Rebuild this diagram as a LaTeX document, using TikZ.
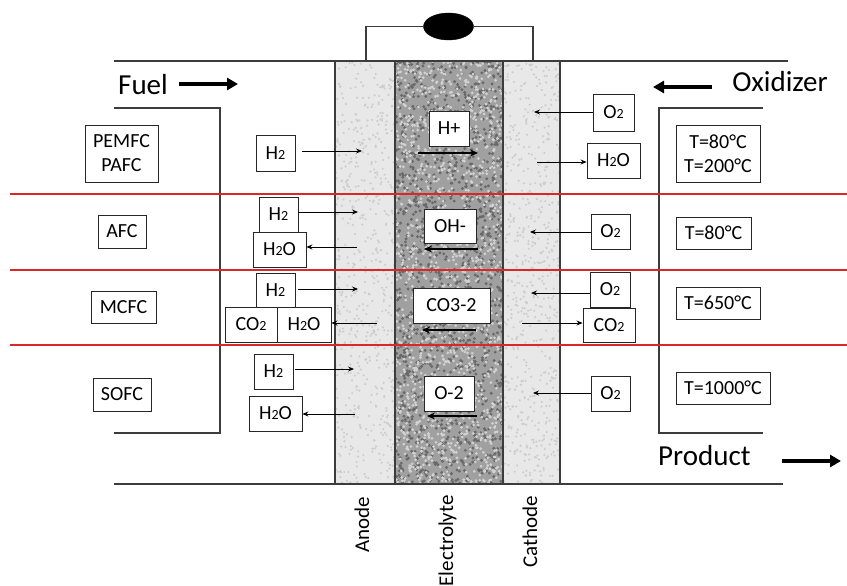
\documentclass[tikz,border=0pt]{standalone}
\usepackage{fontspec}
\setmainfont{Carlito}
\usetikzlibrary{arrows.meta,shapes.geometric}
\definecolor{redl}{RGB}{218,40,40}
\definecolor{lineg}{RGB}{60,60,60}
\definecolor{elbase}{RGB}{160,160,160}
\definecolor{eldark}{RGB}{105,105,105}
\definecolor{ellight}{RGB}{210,210,210}
\definecolor{adbase}{RGB}{232,232,232}
\definecolor{addark}{RGB}{205,205,205}
\newcommand\subn[1]{{\fontsize{14pt}{14pt}\selectfont #1}}
\begin{document}
\begin{tikzpicture}[x=1pt,y=-1pt,
  line/.style={draw=lineg, line width=1.1pt},
  box/.style={draw=black!85, line width=0.9pt, fill=white, inner sep=0pt, font=\fontsize{20pt}{24pt}\selectfont, align=center},
  arr/.style={draw=black, line width=0.8pt, -{Stealth[length=6pt,width=5pt]}},
  ionarr/.style={draw=black, line width=2.2pt, -{Stealth[length=8pt,width=7pt]}},
  bigarr/.style={draw=black, line width=3.5pt, -{Triangle[length=11pt,width=12pt]}},
  big/.style={font=\fontsize{29pt}{30pt}\selectfont, inner sep=0pt},
  lab/.style={font=\fontsize{21pt}{22pt}\selectfont, inner sep=0pt, rotate=90, anchor=base east},
  redline/.style={draw=redl, line width=1.4pt}
]
\useasboundingbox (0,0) rectangle (847,586);
% columns
\fill[adbase] (335,61) rectangle (395,484);
\fill[adbase] (503,61) rectangle (560,484);
\fill[elbase] (395,61) rectangle (503,484);
\pgfmathsetseed{42}
\begin{scope}
\clip (395,61) rectangle (503,484);
\foreach \i in {1,...,1500}{\fill[eldark] ({395+108*rnd},{61+423*rnd}) circle (1.6pt);}
\foreach \i in {1,...,1500}{\fill[ellight] ({395+108*rnd},{61+423*rnd}) circle (1.5pt);}
\end{scope}
\begin{scope}
\clip (335,61) rectangle (395,484);
\foreach \i in {1,...,600}{\fill[addark] ({335+60*rnd},{61+423*rnd}) circle (1.2pt);}
\end{scope}
\begin{scope}
\clip (503,61) rectangle (560,484);
\foreach \i in {1,...,600}{\fill[addark] ({503+57*rnd},{61+423*rnd}) circle (1.2pt);}
\end{scope}
% frame lines
\draw[line] (114,61) -- (788,61);
\draw[line] (114,484) -- (783,484);
\draw[line] (335,61) -- (335,484);
\draw[line] (395,61) -- (395,484);
\draw[line] (503,61) -- (503,484);
\draw[line] (560,61) -- (560,484);
\draw[line] (114,108) -- (220,108) -- (220,433) -- (114,433);
\draw[line] (763,108) -- (659,108) -- (659,433) -- (763,433);
% load and wires
\node[draw=black, fill=black, ellipse, minimum width=50pt, minimum height=27pt, inner sep=0pt] (load) at (448.5,26.5) {};
\coordinate (wl) at (366,61);
\coordinate (wr) at (533,61);
\draw[line] (wl) |- (load.west);
\draw[line] (load.east) -| (wr);
% big labels
\node[big, anchor=base west] (fuel) at (118,95) {Fuel};
\node[big, anchor=base east] (oxid) at (828,92) {Oxidizer};
\node[big, anchor=base west] (prod) at (658,465) {Product};
\coordinate (fa1) at (179,84); \coordinate (fa2) at (238,84);
\draw[bigarr] (fa1) -- (fa2);
\coordinate (oa1) at (712,87); \coordinate (oa2) at (653,87);
\draw[bigarr] (oa1) -- (oa2);
\coordinate (pa1) at (782,461); \coordinate (pa2) at (841,461);
\draw[bigarr] (pa1) -- (pa2);
% type boxes
\node[box, minimum width=73pt, minimum height=57pt] (pemfc) at (121.5,153.5) {PEMFC\\PAFC};
\node[box, minimum width=48pt, minimum height=33pt] (afc) at (122,231.5) {AFC};
\node[box, minimum width=65pt, minimum height=32pt] (mcfc) at (123.5,307) {MCFC};
\node[box, minimum width=58pt, minimum height=33pt] (sofc) at (122,394.5) {SOFC};
% left species
\node[box, minimum width=39pt, minimum height=36pt] (h2a) at (275.5,153) {H\subn{2}};
\node[box, minimum width=39pt, minimum height=35pt] (h2b) at (278.5,214.5) {H\subn{2}};
\node[box, minimum width=53pt, minimum height=35pt] (h2ob) at (279.5,249.5) {H\subn{2}O};
\node[box, minimum width=39pt, minimum height=34pt] (h2c) at (275.5,290) {H\subn{2}};
\node[box, minimum width=52pt, minimum height=35pt] (co2c) at (251,324.5) {CO\subn{2}};
\node[box, minimum width=54pt, minimum height=35pt] (h2oc) at (304,324.5) {H\subn{2}O};
\node[box, minimum width=39pt, minimum height=35pt] (h2d) at (273.5,371.5) {H\subn{2}};
\node[box, minimum width=53pt, minimum height=35pt] (h2od) at (275.5,413.5) {H\subn{2}O};
% ions
\node[box, minimum width=40pt, minimum height=35pt] (hplus) at (449,128.5) {H+};
\node[box, minimum width=52pt, minimum height=34pt] (ohm) at (450,226) {OH-};
\node[box, minimum width=77pt, minimum height=35pt] (co3) at (451.5,305.5) {CO3-2};
\node[box, minimum width=50pt, minimum height=35pt] (o2m) at (449,393.5) {O-2};
% right species
\node[box, minimum width=41pt, minimum height=37pt] (o2a) at (613.5,112.5) {O\subn{2}};
\node[box, minimum width=53pt, minimum height=35pt] (h2oa) at (613.5,160.5) {H\subn{2}O};
\node[box, minimum width=39pt, minimum height=35pt] (o2b) at (610.5,231.5) {O\subn{2}};
\node[box, minimum width=40pt, minimum height=35pt] (o2c) at (610,289.5) {O\subn{2}};
\node[box, minimum width=52pt, minimum height=34pt] (co2r) at (609,325) {CO\subn{2}};
\node[box, minimum width=39pt, minimum height=35pt] (o2d) at (610.5,393.5) {O\subn{2}};
% temperatures
\node[box, minimum width=84pt, minimum height=57pt] (t1) at (718,153.5) {T=80°C\\T=200°C};
\node[box, minimum width=75pt, minimum height=32pt] (t2) at (713.5,233) {T=80°C};
\node[box, minimum width=84pt, minimum height=32pt] (t3) at (718,303) {T=650°C};
\node[box, minimum width=94pt, minimum height=32pt] (t4) at (723,388) {T=1000°C};
% left arrows
\coordinate (a1) at (362,151); \draw[arr, shorten <=7pt] (h2a.east|-a1) -- (a1);
\coordinate (a2) at (358,212); \draw[arr] (h2b.east|-a2) -- (a2);
\coordinate (a3) at (357,247); \draw[arr] (a3) -- (h2ob.east|-a3);
\coordinate (a4) at (358,289); \draw[arr, shorten <=3pt] (h2c.east|-a4) -- (a4);
\coordinate (a5) at (377,323); \draw[arr] (a5) -- (h2oc.east|-a5);
\coordinate (a6) at (354,369); \draw[arr, shorten <=2pt] (h2d.east|-a6) -- (a6);
\coordinate (a7) at (355,414); \draw[arr] (a7) -- (h2od.east|-a7);
% right arrows
\coordinate (c1) at (534,112); \draw[arr] (o2a.west|-c1) -- (c1);
\coordinate (c2) at (537,162); \draw[arr] (c2) -- (h2oa.west|-c2);
\coordinate (c3) at (530,232); \draw[arr] (o2b.west|-c3) -- (c3);
\coordinate (c4) at (531,293); \draw[arr] (o2c.west|-c4) -- (c4);
\coordinate (c5) at (522,323); \draw[arr] (c5) -- (co2r.west|-c5);
\coordinate (c6) at (533,393); \draw[arr] (o2d.west|-c6) -- (c6);
% ion arrows
\coordinate (i1s) at (418,153); \coordinate (i1e) at (478,153); \draw[ionarr] (i1s) -- (i1e);
\coordinate (i2s) at (478,249); \coordinate (i2e) at (424,249); \draw[ionarr] (i2s) -- (i2e);
\coordinate (i3s) at (476,330); \coordinate (i3e) at (422,330); \draw[ionarr] (i3s) -- (i3e);
\coordinate (i4s) at (477,416); \coordinate (i4e) at (427,416); \draw[ionarr] (i4s) -- (i4e);
% red separators
\draw[redline] (10,194) -- (847,194);
\draw[redline] (10,270) -- (847,270);
\draw[redline] (10,345) -- (847,345);
% rotated labels
\node[lab] (anode) at (369,497) {Anode};
\node[lab] (elec) at (453,495) {Electrolyte};
\node[lab] (cath) at (537,496) {Cathode};
\end{tikzpicture}
\end{document}
